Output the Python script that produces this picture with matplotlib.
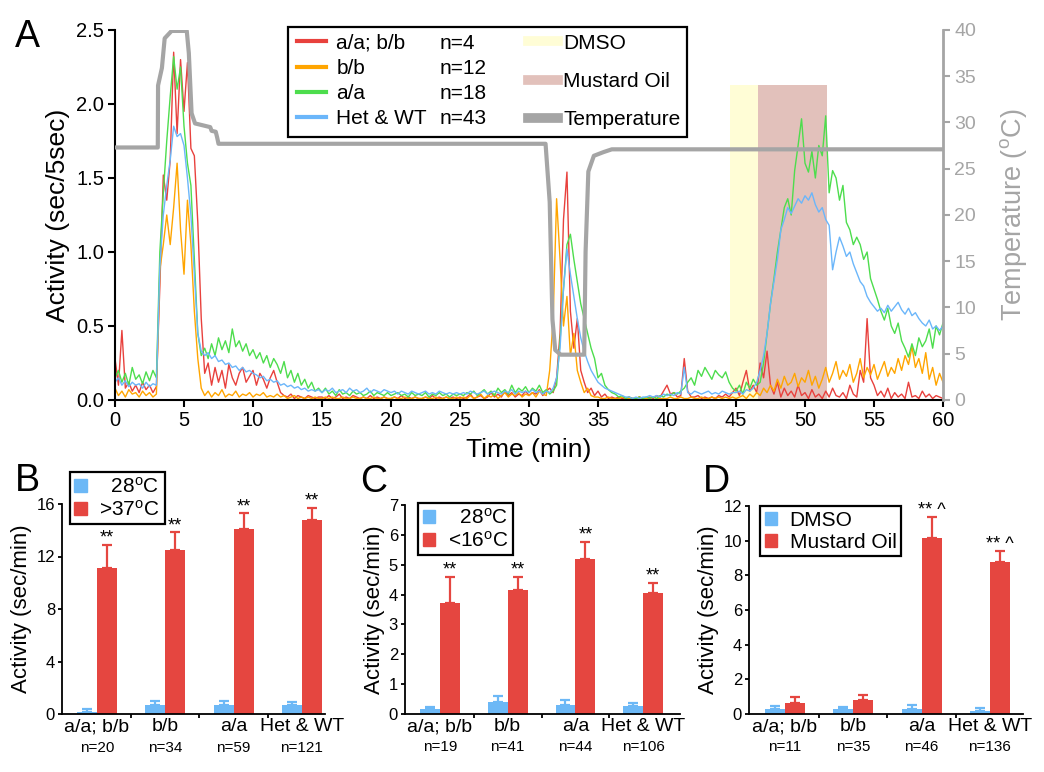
import matplotlib
matplotlib.use('Agg')
import matplotlib.pyplot as plt
import numpy as np
from matplotlib.lines import Line2D
from matplotlib.patches import Patch, Rectangle
import matplotlib.transforms as mtransforms

plt.rcParams['font.family'] = ['Liberation Sans', 'DejaVu Sans']
plt.rcParams['mathtext.fontset'] = 'custom'
plt.rcParams['mathtext.rm'] = 'Liberation Sans'
plt.rcParams['mathtext.it'] = 'Liberation Sans:italic'

RED = '#e8413d'
ORANGE = '#ffa500'
GREEN = '#4ddd4d'
BLUE = '#6bb6fa'
GRAY = '#a5a5a5'
BAR_BLUE = '#6cb8f6'
BAR_RED = '#e54640'
DMSO_COL = '#fffdd6'
MO_COL = '#e2c1bb'
DEG = r'$^{\mathrm{o}}$'

# ---- panel A data (activity every 15 s, 0-60 min) ----
time_min = np.arange(241) * 0.25

act_aabb = [
    0.28, 0.10, 0.47, 0.08, 0.12, 0.06, 0.10, 0.05, 0.12, 0.07, 0.10, 0.05, 0.09, 0.77, 1.52, 1.35, 1.62, 2.35, 1.80, 2.30,
    1.95, 2.28, 1.70, 1.65, 1.20, 0.55, 0.18, 0.25, 0.10, 0.22, 0.12, 0.20, 0.08, 0.24, 0.15, 0.10, 0.18, 0.22, 0.12, 0.16,
    0.20, 0.10, 0.18, 0.14, 0.08, 0.15, 0.20, 0.12, 0.05, 0.03, 0.02, 0.04, 0.01, 0.03, 0.02, 0.01, 0.03, 0.02, 0.01, 0.02,
    0.02, 0.01, 0.03, 0.01, 0.02, 0.04, 0.01, 0.02, 0.01, 0.03, 0.02, 0.01, 0.02, 0.01, 0.03, 0.01, 0.02, 0.01, 0.02, 0.01,
    0.01, 0.02, 0.01, 0.03, 0.01, 0.02, 0.01, 0.02, 0.01, 0.01, 0.02, 0.01, 0.03, 0.01, 0.02, 0.01, 0.02, 0.01, 0.02, 0.01,
    0.02, 0.01, 0.02, 0.04, 0.01, 0.02, 0.03, 0.01, 0.02, 0.05, 0.02, 0.04, 0.02, 0.06, 0.03, 0.05, 0.02, 0.04, 0.03, 0.06,
    0.03, 0.05, 0.04, 0.07, 0.03, 0.06, 0.08, 0.05, 0.15, 0.45, 1.22, 1.54, 0.60, 0.35, 0.55, 0.20, 0.12, 0.05, 0.08, 0.03,
    0.06, 0.02, 0.04, 0.01, 0.02, 0.01, 0.02, 0.01, 0.01, 0.02, 0.01, 0.01, 0.02, 0.01, 0.01, 0.02, 0.01, 0.03, 0.02, 0.06,
    0.10, 0.04, 0.05, 0.02, 0.03, 0.28, 0.06, 0.02, 0.02, 0.03, 0.01, 0.02, 0.01, 0.02, 0.01, 0.03, 0.02, 0.04, 0.02, 0.05,
    0.08, 0.03, 0.12, 0.20, 0.06, 0.10, 0.05, 0.25, 0.15, 0.33, 0.10, 0.04, 0.12, 0.02, 0.08, 0.03, 0.06, 0.02, 0.10, 0.03,
    0.05, 0.01, 0.07, 0.02, 0.04, 0.01, 0.06, 0.02, 0.08, 0.03, 0.02, 0.05, 0.01, 0.10, 0.04, 0.02, 0.20, 0.12, 0.55, 0.15,
    0.10, 0.03, 0.06, 0.02, 0.08, 0.01, 0.05, 0.02, 0.04, 0.01, 0.12, 0.02, 0.03, 0.01, 0.06, 0.02, 0.04, 0.01, 0.03, 0.02,
    0.01]

act_bb = [
    0.08, 0.03, 0.06, 0.02, 0.07, 0.04, 0.05, 0.02, 0.06, 0.03, 0.05, 0.02, 0.04, 0.88, 1.05, 1.25, 1.05, 1.30, 1.60, 1.15,
    0.85, 1.35, 1.05, 0.60, 0.28, 0.08, 0.03, 0.06, 0.02, 0.05, 0.03, 0.07, 0.02, 0.04, 0.03, 0.06, 0.02, 0.04, 0.03, 0.05,
    0.02, 0.04, 0.03, 0.05, 0.02, 0.03, 0.02, 0.04, 0.02, 0.03, 0.01, 0.02, 0.03, 0.01, 0.02, 0.01, 0.02, 0.01, 0.02, 0.01,
    0.01, 0.02, 0.01, 0.02, 0.01, 0.01, 0.02, 0.01, 0.01, 0.02, 0.01, 0.01, 0.02, 0.01, 0.01, 0.02, 0.01, 0.01, 0.02, 0.01,
    0.01, 0.02, 0.01, 0.01, 0.02, 0.01, 0.01, 0.02, 0.01, 0.01, 0.02, 0.01, 0.01, 0.02, 0.01, 0.01, 0.02, 0.01, 0.01, 0.02,
    0.01, 0.02, 0.01, 0.03, 0.01, 0.02, 0.04, 0.01, 0.03, 0.02, 0.04, 0.01, 0.03, 0.05, 0.02, 0.04, 0.03, 0.05, 0.02, 0.04,
    0.03, 0.05, 0.02, 0.06, 0.04, 0.03, 0.20, 0.55, 1.36, 0.95, 0.50, 0.70, 0.30, 0.45, 0.20, 0.12, 0.05, 0.08, 0.03, 0.02,
    0.02, 0.01, 0.01, 0.02, 0.01, 0.01, 0.01, 0.02, 0.01, 0.01, 0.01, 0.01, 0.02, 0.01, 0.01, 0.01, 0.02, 0.01, 0.01, 0.01,
    0.01, 0.02, 0.01, 0.01, 0.02, 0.01, 0.01, 0.02, 0.01, 0.01, 0.02, 0.01, 0.01, 0.02, 0.01, 0.02, 0.01, 0.02, 0.01, 0.02,
    0.01, 0.02, 0.03, 0.01, 0.04, 0.02, 0.05, 0.03, 0.08, 0.05, 0.10, 0.06, 0.14, 0.08, 0.16, 0.10, 0.12, 0.18, 0.09, 0.15,
    0.12, 0.20, 0.10, 0.16, 0.08, 0.14, 0.22, 0.12, 0.18, 0.26, 0.14, 0.20, 0.16, 0.24, 0.12, 0.18, 0.28, 0.15, 0.22, 0.17,
    0.24, 0.14, 0.20, 0.26, 0.16, 0.22, 0.18, 0.28, 0.20, 0.30, 0.24, 0.36, 0.22, 0.28, 0.18, 0.32, 0.14, 0.22, 0.10, 0.18,
    0.12]

act_aa = [
    0.15, 0.20, 0.12, 0.18, 0.10, 0.22, 0.14, 0.17, 0.11, 0.19, 0.13, 0.20, 0.15, 1.00, 1.40, 1.75, 2.05, 2.32, 2.10, 2.25,
    1.85, 1.60, 1.45, 0.95, 0.45, 0.30, 0.35, 0.28, 0.38, 0.30, 0.42, 0.34, 0.40, 0.32, 0.48, 0.36, 0.40, 0.33, 0.38, 0.30,
    0.34, 0.28, 0.32, 0.25, 0.30, 0.22, 0.28, 0.24, 0.18, 0.26, 0.15, 0.20, 0.12, 0.18, 0.10, 0.14, 0.08, 0.12, 0.06, 0.08,
    0.05, 0.08, 0.04, 0.06, 0.03, 0.07, 0.04, 0.05, 0.03, 0.06, 0.04, 0.05, 0.03, 0.04, 0.06, 0.03, 0.05, 0.04, 0.03, 0.05,
    0.03, 0.04, 0.05, 0.03, 0.04, 0.02, 0.05, 0.03, 0.04, 0.03, 0.05, 0.02, 0.04, 0.03, 0.05, 0.03, 0.04, 0.02, 0.04, 0.03,
    0.04, 0.03, 0.05, 0.04, 0.06, 0.03, 0.05, 0.07, 0.04, 0.06, 0.03, 0.08, 0.05, 0.07, 0.04, 0.10, 0.05, 0.08, 0.06, 0.09,
    0.05, 0.08, 0.06, 0.10, 0.05, 0.07, 0.04, 0.06, 0.10, 0.40, 0.75, 1.05, 1.12, 0.95, 0.80, 0.65, 0.55, 0.45, 0.35, 0.28,
    0.15, 0.18, 0.10, 0.07, 0.05, 0.04, 0.02, 0.03, 0.01, 0.02, 0.01, 0.01, 0.02, 0.01, 0.02, 0.01, 0.02, 0.01, 0.03, 0.02,
    0.04, 0.03, 0.05, 0.04, 0.06, 0.08, 0.12, 0.15, 0.10, 0.20, 0.16, 0.22, 0.18, 0.14, 0.20, 0.17, 0.15, 0.19, 0.12, 0.08,
    0.06, 0.10, 0.04, 0.12, 0.08, 0.14, 0.10, 0.12, 0.25, 0.45, 0.65, 0.82, 1.00, 1.15, 1.30, 1.36, 1.25, 1.55, 1.72, 1.90,
    1.60, 1.54, 1.68, 1.50, 1.72, 1.65, 1.92, 1.40, 1.55, 1.50, 1.35, 1.45, 1.20, 1.15, 1.05, 1.10, 1.05, 0.95, 1.00, 0.82,
    0.75, 0.68, 0.60, 0.54, 0.62, 0.50, 0.45, 0.52, 0.40, 0.35, 0.29, 0.38, 0.30, 0.42, 0.36, 0.40, 0.48, 0.35, 0.50, 0.44,
    0.52]

act_hetwt = [
    0.12, 0.15, 0.10, 0.13, 0.09, 0.12, 0.10, 0.11, 0.08, 0.12, 0.09, 0.11, 0.10, 0.90, 1.25, 1.45, 1.62, 1.85, 1.78, 1.80,
    1.72, 1.50, 1.25, 0.85, 0.45, 0.33, 0.30, 0.32, 0.28, 0.30, 0.26, 0.27, 0.24, 0.25, 0.22, 0.23, 0.20, 0.22, 0.19, 0.20,
    0.18, 0.17, 0.15, 0.16, 0.13, 0.14, 0.12, 0.13, 0.10, 0.11, 0.09, 0.10, 0.08, 0.09, 0.07, 0.08, 0.06, 0.07, 0.06, 0.07,
    0.05, 0.07, 0.06, 0.08, 0.05, 0.06, 0.07, 0.05, 0.08, 0.06, 0.07, 0.05, 0.06, 0.08, 0.05, 0.07, 0.06, 0.05, 0.07, 0.06,
    0.05, 0.06, 0.04, 0.06, 0.05, 0.04, 0.06, 0.05, 0.04, 0.05, 0.06, 0.04, 0.05, 0.04, 0.06, 0.05, 0.04, 0.05, 0.04, 0.05,
    0.04, 0.05, 0.04, 0.06, 0.05, 0.04, 0.05, 0.06, 0.04, 0.05, 0.06, 0.05, 0.04, 0.06, 0.05, 0.07, 0.04, 0.06, 0.05, 0.06,
    0.05, 0.07, 0.05, 0.06, 0.04, 0.06, 0.05, 0.08, 0.15, 0.35, 0.75, 1.02, 0.85, 0.70, 0.55, 0.42, 0.33, 0.26, 0.20, 0.16,
    0.12, 0.10, 0.08, 0.07, 0.06, 0.05, 0.04, 0.03, 0.02, 0.02, 0.01, 0.02, 0.01, 0.02, 0.02, 0.03, 0.02, 0.03, 0.02, 0.04,
    0.03, 0.04, 0.03, 0.05, 0.04, 0.22, 0.05, 0.04, 0.06, 0.05, 0.04, 0.05, 0.06, 0.04, 0.05, 0.04, 0.06, 0.05, 0.04, 0.05,
    0.05, 0.06, 0.04, 0.07, 0.06, 0.08, 0.12, 0.20, 0.30, 0.45, 0.65, 0.80, 0.95, 1.15, 1.22, 1.30, 1.26, 1.31, 1.36, 1.33,
    1.38, 1.35, 1.40, 1.32, 1.27, 1.30, 1.22, 1.18, 0.88, 1.00, 1.10, 1.04, 0.97, 1.00, 0.92, 0.86, 0.80, 0.77, 0.70, 0.66,
    0.63, 0.60, 0.62, 0.59, 0.64, 0.60, 0.63, 0.66, 0.61, 0.58, 0.62, 0.57, 0.59, 0.55, 0.52, 0.50, 0.54, 0.48, 0.50, 0.47,
    0.50]

temp_t = [0, 3.1, 3.12, 3.4, 3.6, 4.1, 5.2, 5.35, 5.55, 5.8, 6.9, 7.0, 7.3, 7.4, 7.5, 31.2, 31.5, 31.7, 31.9, 32.3,
          34.0, 34.1, 34.3, 34.7, 35.4, 36.0, 60]
temp_c = [27.3, 27.3, 34.0, 35.9, 39.1, 39.9, 39.9, 37.5, 31.0, 29.9, 29.5, 29.1, 29.0, 28.4, 27.7, 27.7, 21.4, 8.7, 5.4, 4.9,
          4.9, 16.0, 24.7, 26.4, 26.8, 27.1, 27.1]

dmso_span = (44.6, 46.6)
mo_span = (46.6, 51.6)

genotypes = ['a/a; b/b', 'b/b', 'a/a', 'Het & WT']
n_A = ['n=4', 'n=12', 'n=18', 'n=43']

# ---- panel B ----
n_B = ['n=20', 'n=34', 'n=59', 'n=121']
b_28 = [0.18, 0.66, 0.66, 0.66]
b_28_err = [0.20, 0.33, 0.33, 0.25]
b_hot = [11.1, 12.5, 14.1, 14.75]
b_hot_err = [1.8, 1.37, 1.22, 0.96]

# ---- panel C ----
n_C = ['n=19', 'n=41', 'n=44', 'n=106']
c_28 = [0.16, 0.41, 0.30, 0.27]
c_28_err = [0.09, 0.20, 0.17, 0.09]
c_cold = [3.71, 4.15, 5.18, 4.06]
c_cold_err = [0.89, 0.45, 0.59, 0.34]

# ---- panel D ----
n_D = ['n=11', 'n=35', 'n=46', 'n=136']
d_dmso = [0.27, 0.27, 0.27, 0.17]
d_dmso_err = [0.21, 0.15, 0.25, 0.20]
d_mo = [0.62, 0.81, 10.15, 8.79]
d_mo_err = [0.34, 0.29, 1.2, 0.61]
d_marks = ['', '', '** ^', '** ^']

W, H = 1044, 772
fig = plt.figure(figsize=(W / 100, H / 100), dpi=100)


def px_axes(l, r, t, b):
    return fig.add_axes([l / W, 1 - b / H, (r - l) / W, (b - t) / H])


# ================= panel A =================
ax = px_axes(115, 943, 30, 400)
ax.axvspan(*dmso_span, ymin=0, ymax=0.85, color=DMSO_COL, lw=0, zorder=0)
ax.axvspan(*mo_span, ymin=0, ymax=0.85, color=MO_COL, lw=0, zorder=0)
series = [(act_aabb, RED), (act_bb, ORANGE), (act_aa, GREEN), (act_hetwt, BLUE)]
for vals, col in series:
    ax.plot(time_min, vals, color=col, lw=1.0, zorder=2)
ax.set_xlim(0, 60)
ax.set_ylim(0, 2.5)
ax.set_xticks(np.arange(0, 61, 5))
ax.set_yticks(np.arange(0, 2.51, 0.5))
ax.set_yticklabels(['%.1f' % v for v in np.arange(0, 2.51, 0.5)])
ax.tick_params(labelsize=14.5, direction='out', length=5, width=1.5, pad=3)
for s in ['top', 'right']:
    ax.spines[s].set_visible(False)
for s in ['left', 'bottom']:
    ax.spines[s].set_linewidth(1.5)
ax.set_xlabel('Time (min)', fontsize=19, labelpad=6)
ax.set_ylabel('Activity (sec/5sec)', fontsize=19, labelpad=4)

tax = ax.twinx()
tax.plot(temp_t, temp_c, color=GRAY, lw=3, solid_joinstyle='round', zorder=3)
tax.set_ylim(0, 40)
tax.set_yticks(np.arange(0, 41, 5))
tax.tick_params(labelsize=14, colors=GRAY, direction='out', length=5, width=1.5, pad=3)
for s in ['top', 'left', 'bottom']:
    tax.spines[s].set_visible(False)
tax.spines['right'].set_color(GRAY)
tax.spines['right'].set_linewidth(2)
tax.set_ylabel('Temperature (' + DEG + 'C)', fontsize=19.5, color=GRAY, labelpad=16)

frame = Rectangle((0.209, 0.711), 0.482, 0.297, transform=tax.transAxes, facecolor='white',
                  edgecolor='black', lw=1.6, clip_on=False, zorder=6)
tax.add_patch(frame)
geno_handles = [Line2D([], [], color=c, lw=3) for c in [RED, ORANGE, GREEN, BLUE]]
leg1 = tax.legend(geno_handles, genotypes, loc='upper left', bbox_to_anchor=(0.220, 0.990), frameon=False,
                  fontsize=15, handlelength=1.4, handletextpad=0.48, borderpad=0, borderaxespad=0,
                  labelspacing=0.3)
leg1.set_zorder(7)
tax.add_artist(leg1)
blank = [Line2D([], [], color='none')] * 4
leg2 = tax.legend(blank, n_A, loc='upper left', bbox_to_anchor=(0.3925, 0.990), frameon=False,
                  fontsize=15, handlelength=0, handletextpad=0, borderpad=0, borderaxespad=0,
                  labelspacing=0.3)
leg2.set_zorder(7)
tax.add_artist(leg2)
cond_handles = [Line2D([], [], color=DMSO_COL, lw=7), Line2D([], [], color=MO_COL, lw=7),
                Line2D([], [], color=GRAY, lw=7)]
leg3 = tax.legend(cond_handles, ['DMSO', 'Mustard Oil', 'Temperature'], loc='upper left',
                  bbox_to_anchor=(0.499, 0.990), frameon=False, fontsize=15, handlelength=1.44,
                  handletextpad=0.24, borderpad=0, borderaxespad=0, labelspacing=0.92)
leg3.set_zorder(7)

fig.text(15 / W, 1 - 37 / H, 'A', fontsize=27, va='center', ha='left')


# ================= bar panels =================
def bar_panel(box, xlim, ylim, yticks, low, low_err, high, high_err, ns, marks, labels, legpos, letter, letterpos):
    bx = px_axes(*box)
    x = np.arange(4)
    w = 0.293
    bx.bar(x - w / 2, low, w, color=BAR_BLUE, zorder=2)
    bx.bar(x + w / 2, high, w, color=BAR_RED, zorder=2)
    bx.errorbar(x - w / 2, low, yerr=[np.zeros(4), low_err], fmt='none', ecolor=BAR_BLUE,
                elinewidth=1.6, capsize=3.5, capthick=1.6, zorder=1)
    bx.errorbar(x + w / 2, high, yerr=[np.zeros(4), high_err], fmt='none', ecolor=BAR_RED,
                elinewidth=1.6, capsize=3.5, capthick=1.6, zorder=1)
    for i in range(4):
        bx.annotate(marks[i], (x[i] + w / 2, high[i] + high_err[i]), xytext=(0, -1.5),
                    textcoords='offset points', ha='center', va='bottom', fontsize=13)
    bx.set_xlim(*xlim)
    bx.set_ylim(*ylim)
    bx.set_yticks(yticks)
    bx.set_xticks([0.5, 1.5, 2.5])
    bx.set_xticklabels([])
    bx.set_xticks(x, minor=True)
    bx.set_xticklabels(genotypes, minor=True, fontsize=14)
    bx.tick_params(axis='x', which='minor', length=0, pad=3)
    bx.tick_params(axis='x', which='major', length=3, width=1.3, direction='out')
    bx.tick_params(axis='y', labelsize=12, length=3, width=1.3, direction='out', pad=2)
    for s in ['top', 'right']:
        bx.spines[s].set_visible(False)
    for s in ['left', 'bottom']:
        bx.spines[s].set_linewidth(1.3)
    trans = mtransforms.blended_transform_factory(bx.transData, bx.transAxes)
    for i in range(4):
        bx.text(x[i], -0.16, ns[i], transform=trans, ha='center', va='center', fontsize=11)
    bx.set_ylabel('Activity (sec/min)', fontsize=16, labelpad=3)
    leg = bx.legend([Patch(color=BAR_BLUE), Patch(color=BAR_RED)], labels, loc='upper left',
                    bbox_to_anchor=legpos, frameon=True, fancybox=False, edgecolor='black',
                    framealpha=1, fontsize=15, handlelength=0.6, handleheight=0.6,
                    handletextpad=0.6, borderpad=0.22, borderaxespad=0, labelspacing=0.15)
    leg.get_frame().set_linewidth(1.6)
    fig.text(letterpos[0] / W, 1 - letterpos[1] / H, letter, fontsize=27, va='center', ha='left')
    return bx


stars = ['**'] * 4
bar_panel((62, 325, 504, 714), (-0.512, 3.338), (0, 16), [0, 4, 8, 12, 16], b_28, b_28_err, b_hot,
          b_hot_err, n_B, stars, ['  28' + DEG + 'C', '>37' + DEG + 'C'], (0.03, 1.152), 'B', (15, 481))
bar_panel((405, 680, 505, 714), (-0.517, 3.545), (0, 7), list(range(8)), c_28, c_28_err, c_cold,
          c_cold_err, n_C, stars, ['  28' + DEG + 'C', '<16' + DEG + 'C'], (0.047, 1.01), 'C', (360, 482))
bar_panel((749, 1023, 506, 714), (-0.527, 3.485), (0, 12), [0, 2, 4, 6, 8, 10, 12], d_dmso, d_dmso_err,
          d_mo, d_mo_err, n_D, d_marks, ['DMSO', 'Mustard Oil'], (0.04, 1.0), 'D', (703, 482))

fig.savefig('out.png', dpi=100)
